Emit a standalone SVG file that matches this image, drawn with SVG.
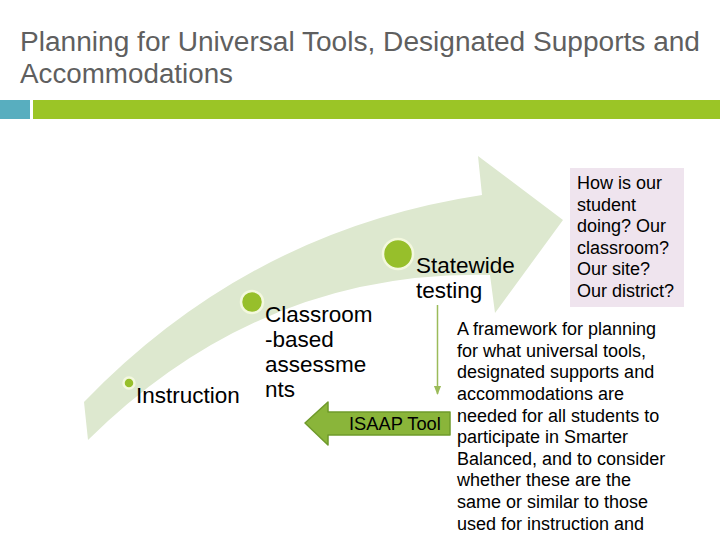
<svg xmlns="http://www.w3.org/2000/svg" width="720" height="540" viewBox="0 0 720 540">
<defs>
<style>
.t{font-family:"Liberation Sans",Arial,sans-serif;fill:#000}
.lbl{font-size:22.5px}
.box{font-size:18px}
.title{font-family:"Liberation Sans",Arial,sans-serif;font-size:27px;fill:#5f5f5f}
.dot{fill:#97bf2b;stroke:#f3f8de;stroke-width:2.5}
</style>
<marker id="ah" viewBox="0 0 10 10" refX="9" refY="5" markerWidth="6" markerHeight="6" orient="auto">
<path d="M0,1 L10,5 L0,9 Z" fill="#9bbb59"/>
</marker>
</defs>
<rect width="720" height="540" fill="#fff"/>
<g id="title">
<text class="title" x="20" y="51" textLength="680" lengthAdjust="spacingAndGlyphs">Planning for Universal Tools, Designated Supports and</text>
<text class="title" x="20" y="83" textLength="213" lengthAdjust="spacingAndGlyphs">Accommodations</text>
</g>
<g id="bars">
<rect x="0" y="100" width="30" height="19" fill="#58aebf"/>
<rect x="33" y="100" width="687" height="19" fill="#9bc526"/>
</g>
<g id="band">
<path d="M84,402 Q250,230 482,195 L478,156 L563,220 L495,313 L490,275 Q260,270 88,440 Z" fill="#dde8cf"/>
</g>
<g id="instruction">
<circle class="dot" cx="129" cy="383" r="5.5"/>
<text class="t lbl" x="136" y="403">Instruction</text>
</g>
<g id="classroom">
<circle class="dot" cx="252" cy="302" r="11"/>
<text class="t lbl" x="265" y="322">Classroom</text>
<text class="t lbl" x="265" y="347">-based</text>
<text class="t lbl" x="265" y="372">assessme</text>
<text class="t lbl" x="265" y="397">nts</text>
</g>
<g id="statewide">
<circle class="dot" cx="398" cy="254" r="15"/>
<text class="t lbl" x="416" y="273" font-size="23">Statewide</text>
<text class="t lbl" x="416" y="298" font-size="23">testing</text>
</g>
<g id="connectors">
<line x1="437.5" y1="305" x2="437.5" y2="394" stroke="#9bbb59" stroke-width="1.5" marker-end="url(#ah)"/>
</g>
<g id="isaap">
<path d="M305,423 L328,402 L328,412 L450,412 L450,435 L328,435 L328,445 Z" fill="#8ab53a" stroke="#6f9a2b" stroke-width="1.5" stroke-linejoin="round"/>
<text class="t" x="349" y="430" font-size="18.3">ISAAP Tool</text>
</g>
<g id="question">
<rect x="570" y="168" width="114" height="139" fill="#efe4ee"/>
<text class="t box" x="577" y="189">How is our</text>
<text class="t box" x="577" y="211">student</text>
<text class="t box" x="577" y="232">doing? Our</text>
<text class="t box" x="577" y="254">classroom?</text>
<text class="t box" x="577" y="275">Our site?</text>
<text class="t box" x="577" y="297">Our district?</text>
</g>
<g id="framework">
<text class="t box" x="457" y="335">A framework for planning</text>
<text class="t box" x="457" y="357">for what universal tools,</text>
<text class="t box" x="457" y="378">designated supports and</text>
<text class="t box" x="457" y="400">accommodations are</text>
<text class="t box" x="457" y="422">needed for all students to</text>
<text class="t box" x="457" y="443">participate in Smarter</text>
<text class="t box" x="457" y="465">Balanced, and to consider</text>
<text class="t box" x="457" y="486">whether these are the</text>
<text class="t box" x="457" y="508">same or similar to those</text>
<text class="t box" x="457" y="530">used for instruction and</text>
</g>
</svg>
